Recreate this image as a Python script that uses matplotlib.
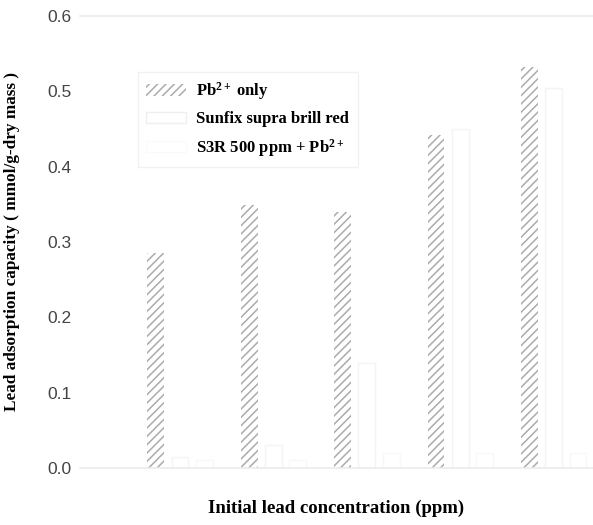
import matplotlib
matplotlib.use("Agg")
import matplotlib.pyplot as plt
import matplotlib.patches as mpatches
import numpy as np

# lead uptake per initial concentration (5 levels)
pb_only = [0.285, 0.349, 0.340, 0.442, 0.532]
sunfix = [0.015, 0.03, 0.14, 0.45, 0.505]
s3r_pb = [0.01, 0.01, 0.02, 0.02, 0.02]
yticks = [0.0, 0.1, 0.2, 0.3, 0.4, 0.5, 0.6]

plt.rcParams['mathtext.fontset'] = 'custom'
plt.rcParams['mathtext.rm'] = 'Liberation Serif:bold'
plt.rcParams['mathtext.it'] = 'Liberation Serif:bold'
plt.rcParams['mathtext.bf'] = 'Liberation Serif:bold'
plt.rcParams['hatch.linewidth'] = 1.1

fig = plt.figure(figsize=(5.93, 5.25), dpi=100)
ax = fig.add_axes([0.135, 0.1086, 0.865, 0.8609])

x = np.arange(len(pb_only))
w = 0.18
hatch_col = '#ababab'
faint = '#f4f4f4'

ax.bar(x, pb_only, w, color='white', edgecolor=hatch_col, hatch='////', linewidth=0)
ax.bar(x + 0.26, sunfix, w, color='white', edgecolor=faint, linewidth=1.0)
ax.bar(x + 0.52, s3r_pb, w, color='white', edgecolor='#f8f8f8', linewidth=1.0)

ax.set_xlim(-0.81, 4.68)
ax.set_ylim(0, 0.6)
ax.set_yticks(yticks)
ax.set_yticklabels(['%.1f' % v for v in yticks], family='Liberation Sans', fontsize=12.5, color='#444444')
ax.set_xticks([])
ax.tick_params(axis='y', length=0, pad=5.8)

for s in ['left', 'right']:
    ax.spines[s].set_visible(False)
for s in ['top', 'bottom']:
    ax.spines[s].set_color('#ebebeb')
    ax.spines[s].set_linewidth(1.2)

ax.set_ylabel('Lead adsorption capacity ( mmol/g-dry mass )', family='Liberation Serif',
              fontweight='bold', fontsize=12.4)
ax.yaxis.set_label_coords(-0.118, 0.5)
ax.set_xlabel('Initial lead concentration (ppm)', family='Liberation Serif',
              fontweight='bold', fontsize=13.5)
ax.xaxis.set_label_coords(0.5, -0.07)

handles = [
    mpatches.Patch(facecolor='white', edgecolor=hatch_col, hatch='////', linewidth=0),
    mpatches.Patch(facecolor='white', edgecolor='#efefef', linewidth=1.0),
    mpatches.Patch(facecolor='white', edgecolor='#fafafa', linewidth=1.0),
]
labels = ['Pb$^{2+}$ only', 'Sunfix supra brill red', 'S3R 500 ppm + Pb$^{2+}$']
leg = ax.legend(handles, labels, loc='upper left', bbox_to_anchor=(0.113, 0.876),
                borderaxespad=0, fancybox=False, handlelength=2.4, handleheight=0.7,
                handletextpad=0.6, labelspacing=0.55, borderpad=0.5,
                prop={'family': 'Liberation Serif', 'weight': 'bold', 'size': 12})
leg.get_frame().set_edgecolor('#eeeeee')
leg.get_frame().set_linewidth(1.0)

fig.savefig('out.png', dpi=100)
